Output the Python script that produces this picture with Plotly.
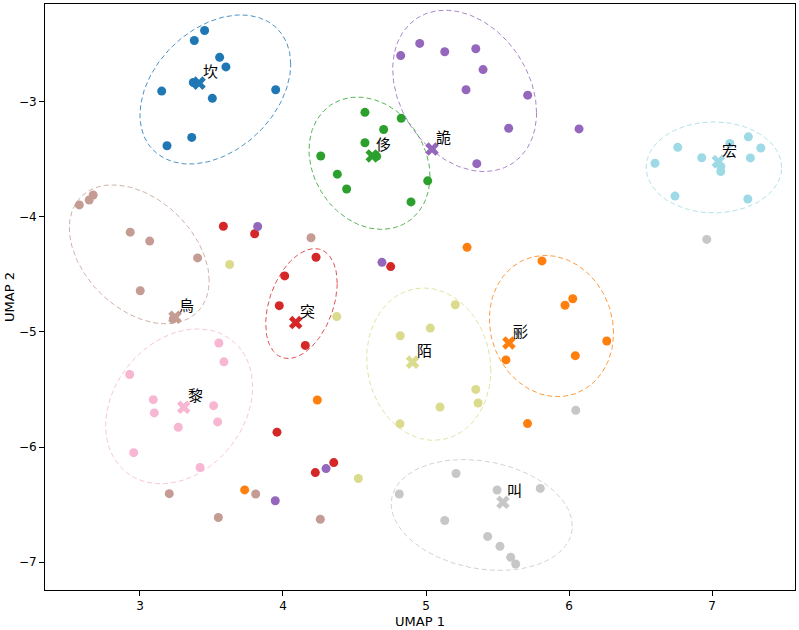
import numpy as np
import plotly.graph_objects as go

# ---- data ----
cluster_labels = ["坎", "彨", "侈", "突", "詭", "烏", "黎", "叫", "陌", "宏"]
cluster_colors = ["#1f77b4", "#ff7f0e", "#2ca02c", "#d62728", "#9467bd",
                  "#c49c94", "#f7b6d2", "#c7c7c7", "#dbdb8d", "#9edae5"]

# points: x, y, cluster index
point_x = [
    # 0 blue
    3.452, 3.380, 3.557, 3.601, 3.373, 3.949, 3.152, 3.506, 3.362, 3.189,
    # 1 orange
    5.287, 5.811, 6.026, 5.972, 6.264, 5.559, 6.044, 5.710, 4.240, 3.732,
    # 2 green
    4.573, 4.827, 4.704, 4.573, 4.264, 4.655, 4.380, 4.445, 5.012, 4.895,
    # 3 red
    3.583, 3.802, 4.231, 4.012, 3.974, 4.156, 4.753, 3.958, 4.355, 4.226,
    # 4 purple
    4.823, 4.956, 5.131, 5.348, 5.399, 5.280, 5.711, 5.578, 5.355, 6.070,
    3.823, 4.692, 4.301, 3.946,
    # 5 brown
    2.576, 2.645, 2.673, 2.932, 3.068, 3.403, 3.002, 3.233,
    4.196, 3.205, 3.809, 3.548, 4.261,
    # 6 pink
    3.552, 3.587, 2.928, 3.093, 3.100, 3.515, 3.543, 3.268, 2.956, 3.420,
    # 7 gray
    5.210, 4.813, 5.497, 5.799, 5.131, 5.431, 5.517, 5.592, 5.627, 6.047, 6.963,
    # 8 olive
    3.627, 4.376, 5.205, 5.030, 4.820, 5.348, 5.364, 5.098, 4.818, 4.527,
    # 9 cyan
    6.760, 6.601, 6.928, 7.124, 7.254, 7.341, 7.268, 7.061, 7.061, 6.741, 7.250,
]
point_y = [
    -2.385, -2.472, -2.618, -2.701, -2.836, -2.899, -2.911, -2.974, -3.313, -3.385,
    -4.267, -4.385, -4.713, -4.770, -5.080, -5.244, -5.207, -5.797, -5.592, -6.372,
    -3.095, -3.147, -3.244, -3.359, -3.474, -3.477, -3.632, -3.761, -3.690, -3.873,
    -4.084, -4.149, -4.353, -4.515, -4.773, -5.118, -4.434, -5.871, -6.135, -6.222,
    -2.603, -2.497, -2.569, -2.543, -2.724, -2.899, -2.946, -3.233, -3.541, -3.239,
    -4.086, -4.397, -6.187, -6.466,
    -3.899, -3.856, -3.813, -4.135, -4.213, -4.359, -4.644, -4.888,
    -4.184, -6.405, -6.408, -6.612, -6.627,
    -5.097, -5.261, -5.371, -5.589, -5.704, -5.641, -5.782, -5.828, -6.049, -6.178,
    -6.230, -6.408, -6.373, -6.359, -6.638, -6.776, -6.862, -6.957, -7.015, -5.681, -4.198,
    -4.416, -4.868, -4.765, -4.968, -5.034, -5.500, -5.618, -5.653, -5.799, -6.273,
    -3.399, -3.537, -3.489, -3.365, -3.308, -3.405, -3.491, -3.566, -3.609, -3.822, -3.847,
]
point_cluster = (
    [0] * 10 + [1] * 10 + [2] * 10 + [3] * 10 + [4] * 14 +
    [5] * 13 + [6] * 10 + [7] * 11 + [8] * 10 + [9] * 11
)

# word (centroid) markers
centroid_x = [3.413, 5.580, 4.624, 4.089, 5.042, 3.245, 3.306, 5.538, 4.906, 7.044]
centroid_y = [-2.842, -5.097, -3.474, -4.920, -3.414, -4.873, -5.655, -6.480, -5.263, -3.523]

# ellipse parameters (center, half-extent in x, half-extent in y, correlation)
ell_cx = [3.527, 5.877, 4.605, 4.129, 5.270, 2.995, 3.274, 5.390, 5.019, 7.013]
ell_cy = [-2.897, -4.950, -3.537, -4.755, -2.909, -4.328, -5.647, -6.590, -5.281, -3.573]
ell_sx = [0.527, 0.434, 0.423, 0.250, 0.503, 0.489, 0.514, 0.633, 0.434, 0.474]
ell_sy = [0.647, 0.613, 0.574, 0.477, 0.700, 0.603, 0.672, 0.481, 0.661, 0.395]
ell_rho = [0.34, -0.10, -0.20, 0.37, -0.27, -0.38, 0.25, -0.20, -0.08, 0.0]


def hex_rgba(h, a):
    h = h.lstrip("#")
    return "rgba(%d,%d,%d,%.2f)" % (int(h[0:2], 16), int(h[2:4], 16), int(h[4:6], 16), a)


fig = go.Figure()

px_arr = np.array(point_x)
py_arr = np.array(point_y)
pc_arr = np.array(point_cluster)

for k in range(len(cluster_labels)):
    m = pc_arr == k
    fig.add_trace(go.Scatter(
        x=px_arr[m], y=py_arr[m], mode="markers",
        marker=dict(size=9, color=cluster_colors[k], line=dict(width=0)),
        showlegend=False, hoverinfo="skip"))

t = np.linspace(0, 2 * np.pi, 200)
for k in range(len(cluster_labels)):
    r = ell_rho[k]
    ex = ell_cx[k] + ell_sx[k] * np.cos(t)
    ey = ell_cy[k] + ell_sy[k] * (r * np.cos(t) + np.sqrt(1 - r * r) * np.sin(t))
    fig.add_trace(go.Scatter(
        x=ex, y=ey, mode="lines",
        line=dict(color=hex_rgba(cluster_colors[k], 0.8), width=1, dash="5px,3px"),
        showlegend=False, hoverinfo="skip"))

for k in range(len(cluster_labels)):
    fig.add_trace(go.Scatter(
        x=[centroid_x[k]], y=[centroid_y[k]], mode="markers",
        marker=dict(symbol="x", size=12, color=cluster_colors[k], line=dict(width=0)),
        showlegend=False, hoverinfo="skip"))
    fig.add_annotation(
        x=centroid_x[k], y=centroid_y[k], xref="x", yref="y",
        text=cluster_labels[k], showarrow=False,
        xanchor="left", yanchor="bottom", xshift=2, yshift=0,
        font=dict(family="Noto Sans CJK SC", size=15, color="black"))

axis_common = dict(
    showgrid=False, zeroline=False, showline=True, linecolor="black", linewidth=1,
    mirror=True, ticks="outside", ticklen=5, tickwidth=1, tickcolor="black",
    tickfont=dict(family="DejaVu Sans", size=12, color="black"),
)

fig.update_layout(
    width=799, height=630,
    margin=dict(l=45, r=4, t=3, b=37),
    paper_bgcolor="white", plot_bgcolor="white",
    xaxis=dict(range=[2.336, 7.58], dtick=1,
               title=dict(text="UMAP 1", font=dict(family="DejaVu Sans", size=13, color="black"), standoff=4),
               **axis_common),
    yaxis=dict(range=[-7.241, -2.155], dtick=1,
               title=dict(text="UMAP 2", font=dict(family="DejaVu Sans", size=13, color="black"), standoff=1),
               **axis_common),
)

fig.write_html("out.html")
